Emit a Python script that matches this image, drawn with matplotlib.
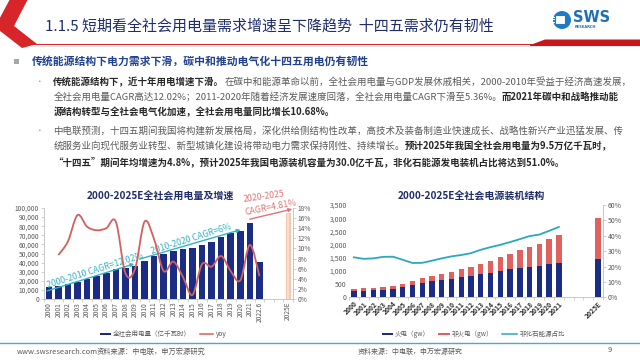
import numpy as np
import matplotlib
matplotlib.use('Agg')
import matplotlib.pyplot as plt
from matplotlib.path import Path
from matplotlib.patches import PathPatch, Polygon, Circle, Rectangle
from matplotlib.ticker import FuncFormatter, MultipleLocator, FixedLocator

plt.rcParams['font.family'] = ['Noto Sans CJK SC', 'DejaVu Sans']

# ---------------- data ----------------
cats_left = ['2000', '2001', '2002', '2003', '2004', '2005', '2006', '2007', '2008', '2009',
             '2010', '2011', '2012', '2013', '2014', '2015', '2016', '2017', '2018', '2019',
             '2020', '2021', '2022.6', '', '', '2025E']
consumption = [13471, 14633, 16332, 18910, 21761, 24940, 28368, 32458, 34268, 36430,
               41923, 46928, 49591, 53223, 55233, 55500, 59198, 63077, 68449, 72255,
               75110, 83128, 40977]
consumption_2025e = 95000
yoy_years_idx = list(range(1, 23))
yoy = [8.7, 11.4, 16.6, 14.3, 13.6, 14.0, 15.3, 5.1, 5.9, 15.3,
       11.8, 5.5, 7.4, 4.4, 0.8, 6.9, 6.4, 8.5, 5.5, 3.7, 10.7, 4.5]

cats_right = ['2000', '2001', '2002', '2003', '2004', '2005', '2006', '2007', '2008', '2009',
              '2010', '2011', '2012', '2013', '2014', '2015', '2016', '2017', '2018', '2019',
              '2020', '2021', '', '', '', '2025E']
thermal = [238, 253, 266, 289, 329, 391, 484, 556, 602, 652,
           710, 769, 819, 870, 924, 1006, 1061, 1110, 1144, 1190,
           1245, 1297]
non_thermal = [81, 86, 91, 102, 113, 126, 139, 162, 191, 222,
               256, 294, 328, 388, 446, 519, 590, 668, 756, 821,
               956, 1080]
thermal_2025e = 1470
non_thermal_2025e = 1530
nonfossil_share = [26.0, 25.0, 25.3, 26.3, 26.4, 24.4, 22.3, 22.4, 23.8, 25.3,
                   26.6, 27.5, 28.7, 30.9, 32.6, 34.1, 35.9, 37.8, 39.8, 40.8,
                   43.2, 45.7]

# ---------------- figure ----------------
W, H = 640, 360
fig = plt.figure(figsize=(6.4, 3.6), dpi=100)
fig.patch.set_facecolor('white')
bg = fig.add_axes([0, 0, 1, 1])
bg.set_xlim(0, W)
bg.set_ylim(H, 0)
bg.axis('off')

NAVY = '#1b2c84'
RED = '#e0625f'
TEAL = '#2aa8c2'
GRAY = '#595959'
LGRAY = '#bfbfbf'

# header chevron and red rule
bg.add_patch(Polygon([(10, -1), (28, -1), (14, 26), (37, 44), (22, 48), (-5, 27)],
                     closed=True, facecolor='#d7262a', edgecolor='none'))
bg.add_patch(Rectangle((30, 43.5), 510, 1.6, facecolor='#d7262a', edgecolor='none'))
bg.add_patch(Polygon([(530, 45.1), (545, 39.5), (641, 39.5), (641, 46), (530, 46)],
                     closed=True, facecolor='#c8161d', edgecolor='none'))
bg.add_patch(Rectangle((30, 46.2), 611, 1.2, facecolor='#e6e6e6', edgecolor='none'))

bg.text(45, 26, '1.1.5 短期看全社会用电量需求增速呈下降趋势  十四五需求仍有韧性',
        fontsize=10.8, color='#1f2d6b', va='center', ha='left')

# logo
bg.add_patch(Circle((562, 20), 9, facecolor='#1f7bc1', edgecolor='none'))
bg.add_patch(Rectangle((554.5, 15), 10, 9, facecolor='white', edgecolor='#1f7bc1', lw=0.8))
for yy in (16.5, 19, 21.5):
    bg.add_patch(Rectangle((550, yy), 5, 1, facecolor='white', edgecolor='none'))
bg.text(573, 18, 'SWS', fontsize=10.5, fontweight='bold', color='#1f6fb5',
        va='center', ha='left', family=['DejaVu Sans'])
bg.text(575, 27.5, 'RESEARCH', fontsize=2.6, fontweight='bold', color='#1f6fb5',
        va='center', ha='left', family=['DejaVu Sans'])

# text block
renderer = fig.canvas.get_renderer()


def runs(x, y, parts, fs=6.8):
    for s, bold in parts:
        t = bg.text(x, y, s, fontsize=fs, fontweight='bold' if bold else 'normal',
                    color='#262626' if bold else '#5a5a5a', va='center', ha='left')
        bb = t.get_window_extent(renderer=renderer)
        x += bb.width


bg.add_patch(Rectangle((14, 59.2), 5, 5, facecolor='#a6a6a6', edgecolor='none'))
bg.text(31.5, 61.7, '传统能源结构下电力需求下滑，碳中和推动电气化十四五用电仍有韧性',
        fontsize=7.8, fontweight='bold', color='#1f3f8f', va='center', ha='left')

for yb in (81.7, 131):
    bg.text(40, yb, '•', fontsize=5.5, color='#7f9cc8', va='center', ha='center')

runs(53.3, 81.7, [('传统能源结构下，近十年用电增速下滑。', True),
                  ('在碳中和能源革命以前，全社会用电量与GDP发展休戚相关，2000-2010年受益于经济高速发展，', False)])
runs(53.3, 96.7, [('全社会用电量CAGR高达12.02%；2011-2020年随着经济发展速度回落，全社会用电量CAGR下滑至5.36%。', False),
                  ('而2021年碳中和战略推动能', True)])
runs(53.3, 111.7, [('源结构转型与全社会电气化加速，全社会用电量同比增长10.68%。', True)])
runs(53.3, 131, [('中电联预测，十四五期间我国将构建新发展格局，深化供给侧结构性改革，高技术及装备制造业快速成长、战略性新兴产业迅猛发展、传', False)])
runs(53.3, 145.8, [('统服务业向现代服务业转型、新型城镇化建设将带动电力需求保持刚性、持续增长。', False),
                   ('预计2025年我国全社会用电量为9.5万亿千瓦时，', True)])
runs(53.3, 161.5, [('“十四五”期间年均增速为4.8%，预计2025年我国电源装机容量为30.0亿千瓦，非化石能源发电装机占比将达到51.0%。', True)])

# chart titles
bg.text(160, 196.7, '2000-2025E全社会用电量及增速', fontsize=7.2, fontweight='bold',
        color='#1f2d6b', va='center', ha='center')
bg.text(471.7, 196.7, '2000-2025E全社会电源装机结构', fontsize=7.2, fontweight='bold',
        color='#1f2d6b', va='center', ha='center')


def style_axis(a):
    a.spines['top'].set_visible(False)
    for s in a.spines.values():
        s.set_color(LGRAY)
        s.set_linewidth(0.6)
    a.tick_params(axis='both', labelsize=4.8, colors=LGRAY, labelcolor=GRAY,
                  length=2, width=0.5, pad=1.5)


# ---------------- left chart ----------------
ax = fig.add_axes([44 / W, 1 - 299 / H, 249 / W, 91 / H])
ax.set_facecolor('none')
xl = np.arange(len(cats_left))
ax.bar(xl[:len(consumption)], consumption, width=0.68, color=NAVY, zorder=2)
ax.bar([25], [consumption_2025e], width=0.5, color='#f5c6b0', zorder=2)
ax.bar([25], [consumption_2025e], width=0.18, color='#f9ddd0', zorder=2)
ax.set_xlim(-0.5, 25.5)
ax.set_ylim(0, 100000)
ax.yaxis.set_major_locator(MultipleLocator(10000))
ax.yaxis.set_major_formatter(FuncFormatter(lambda v, p: f'{int(v):,}'))
ax.set_xticks(xl)
ax.set_xticklabels(cats_left, rotation=90)
ax.xaxis.set_minor_locator(FixedLocator(np.arange(-0.5, 26, 1)))
style_axis(ax)
ax.spines['right'].set_visible(False)
ax.tick_params(axis='x', length=0, pad=2)
ax.tick_params(axis='x', which='minor', length=2, color=LGRAY, width=0.5)

ax2 = ax.twinx()
ax2.set_ylim(0, 18)
ax2.yaxis.set_major_locator(MultipleLocator(2))
ax2.yaxis.set_major_formatter(FuncFormatter(lambda v, p: f'{v:.0f}%'))
style_axis(ax2)
ax2.spines['left'].set_visible(False)
ax2.spines['bottom'].set_visible(False)

# smooth yoy line (Bezier through the data points)
pts = list(zip(yoy_years_idx, yoy))
verts = [pts[0]]
codes = [Path.MOVETO]
n = len(pts)
for i in range(n - 1):
    p0 = pts[i - 1] if i > 0 else pts[i]
    p1, p2 = pts[i], pts[i + 1]
    p3 = pts[i + 2] if i + 2 < n else pts[i + 1]
    c1 = (p1[0] + (p2[0] - p0[0]) / 6, p1[1] + (p2[1] - p0[1]) / 6)
    c2 = (p2[0] - (p3[0] - p1[0]) / 6, p2[1] - (p3[1] - p1[1]) / 6)
    verts += [c1, c2, p2]
    codes += [Path.CURVE4] * 3
ax2.add_patch(PathPatch(Path(verts, codes), facecolor='none', edgecolor='#d45f5f',
                        lw=1.3, zorder=3))

# CAGR annotations
CT = '#35b3c4'
ax.annotate('', xy=(9.2, 39500), xytext=(-0.45, 8000), annotation_clip=False,
            arrowprops=dict(arrowstyle='-|>', color=CT, lw=1.0, mutation_scale=5))
ax.text(4.8, 31500, '2000-2010 CAGR=12.02%', color=CT, fontsize=6.3, rotation=17.5,
        ha='center', va='center', rotation_mode='anchor', zorder=4)
ax.annotate('', xy=(20.3, 77000), xytext=(9.2, 43000), annotation_clip=False,
            arrowprops=dict(arrowstyle='-|>', color=CT, lw=1.0, mutation_scale=5))
ax.text(14.9, 65500, '2010-2020 CAGR=6%', color=CT, fontsize=6.3, rotation=17.5,
        ha='center', va='center', rotation_mode='anchor', zorder=4)
SC = '#e07575'
ax.annotate('', xy=(25.7, 99500), xytext=(20.7, 87000), annotation_clip=False,
            arrowprops=dict(arrowstyle='-|>', color=SC, lw=1.0, mutation_scale=5))
ax.text(22.5, 112000, '2020-2025', color=SC, fontsize=6.3, rotation=8,
        ha='center', va='center', rotation_mode='anchor', zorder=4)
ax.text(23.2, 100500, 'CAGR=4.81%', color=SC, fontsize=6.3, rotation=11,
        ha='center', va='center', rotation_mode='anchor', zorder=4)

# left legend
bg.add_patch(Rectangle((100, 332.8), 11, 2.6, facecolor=NAVY, edgecolor='none'))
bg.text(113, 334, '全社会用电量（亿千瓦时）', fontsize=4.7, color=GRAY, va='center', ha='left')
bg.plot([200, 213], [334, 334], color='#d45f5f', lw=1.1)
bg.text(216, 334, 'yoy', fontsize=4.7, color=GRAY, va='center', ha='left')

# ---------------- right chart ----------------
ax3 = fig.add_axes([349 / W, 1 - 297.3 / H, 253.8 / W, 92.3 / H])
ax3.set_facecolor('none')
xr = np.arange(len(thermal))
ax3.bar(xr, thermal, width=0.55, color=NAVY, zorder=2)
ax3.bar(xr, non_thermal, bottom=thermal, width=0.55, color=RED, zorder=2)
ax3.bar([25], [thermal_2025e], width=0.55, color=NAVY, zorder=2)
ax3.bar([25], [non_thermal_2025e], bottom=[thermal_2025e], width=0.55, color=RED, zorder=2)
ax3.set_xlim(-0.5, 25.5)
ax3.set_ylim(0, 3500)
ax3.yaxis.set_major_locator(MultipleLocator(500))
ax3.yaxis.set_major_formatter(FuncFormatter(lambda v, p: f'{int(v):,}'))
ax3.set_xticks(np.arange(len(cats_right)))
ax3.set_xticklabels(cats_right, rotation=45, ha='right', rotation_mode='anchor',
                    fontweight='bold')
ax3.xaxis.set_minor_locator(FixedLocator(np.arange(-0.5, 26, 1)))
style_axis(ax3)
ax3.spines['right'].set_visible(False)
ax3.spines['left'].set_visible(False)
ax3.tick_params(axis='y', length=0, labelsize=5)
ax3.tick_params(axis='x', length=0, pad=2, labelsize=4.9, labelcolor='#333333')
ax3.tick_params(axis='x', which='minor', length=2, color=LGRAY, width=0.5)

ax4 = ax3.twinx()
ax4.set_ylim(0, 60)
ax4.yaxis.set_major_locator(MultipleLocator(10))
ax4.yaxis.set_major_formatter(FuncFormatter(lambda v, p: f'{v:.0f}%'))
style_axis(ax4)
ax4.tick_params(axis='y', labelsize=5)
ax4.spines['left'].set_visible(False)
ax4.spines['bottom'].set_visible(False)
ax4.plot(xr, nonfossil_share, color=TEAL, lw=1.3, zorder=3)

# right legend
bg.add_patch(Rectangle((381.7, 332.8), 11.5, 2.6, facecolor=NAVY, edgecolor='none'))
bg.text(395, 334, '火电（gw）', fontsize=4.7, color=GRAY, va='center', ha='left')
bg.add_patch(Rectangle((438, 332.8), 11.5, 2.6, facecolor=RED, edgecolor='none'))
bg.text(452, 334, '非火电（gw）', fontsize=4.7, color=GRAY, va='center', ha='left')
bg.plot([502, 517], [334, 334], color=TEAL, lw=1.1)
bg.text(520, 334, '非化石能源占比', fontsize=4.7, color=GRAY, va='center', ha='left')

# footer
bg.plot([0, 640], [343, 343], color='#4ea6d6', lw=1.0)
bg.text(17, 351.5, 'www.swsresearch.com', fontsize=5.4, color=GRAY, va='center', ha='left')
bg.text(97, 351.5, '资料来源：中电联，申万宏源研究', fontsize=5.2, color=GRAY, va='center', ha='left')
bg.text(358, 351.5, '资料来源：中电联，申万宏源研究', fontsize=5.0, color=GRAY, va='center', ha='left')
bg.text(610, 350.5, '9', fontsize=5.4, color=GRAY, va='center', ha='center')

fig.savefig('out.png', dpi=100, facecolor='white')
